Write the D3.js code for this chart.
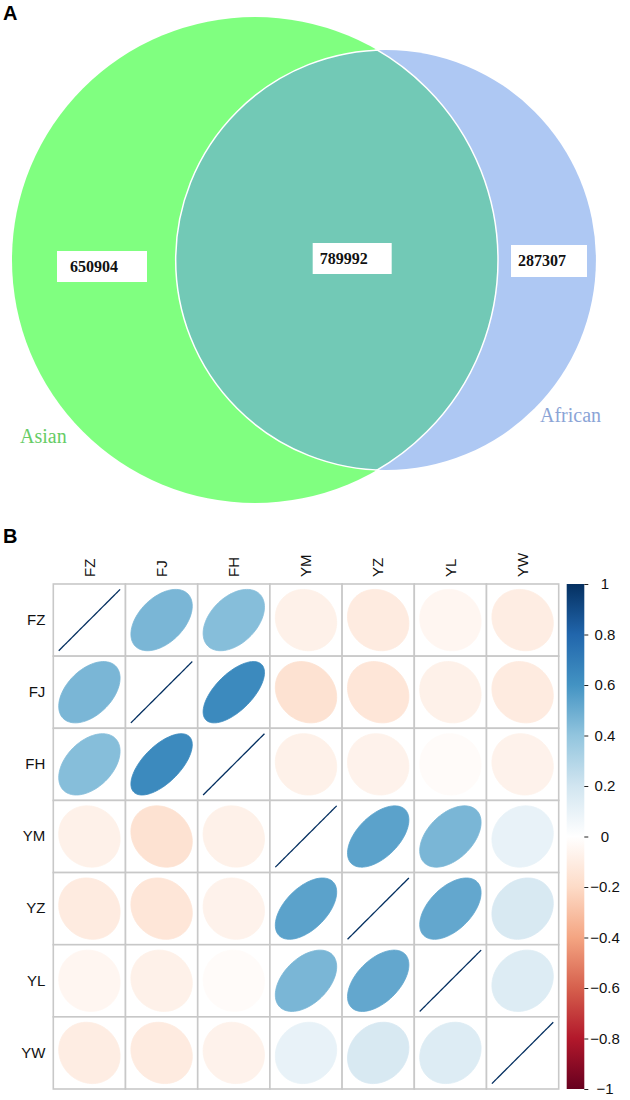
<!DOCTYPE html>
<html>
<head>
<meta charset="utf-8">
<script src="https://cdn.jsdelivr.net/npm/d3@7"></script>
<style>
body { margin: 0; background: #fff; }
svg { display: block; }
</style>
</head>
<body>
<div id="chart"></div>
<script>
// panel A: venn counts
const setNames = ["Asian", "African"];
const regionNames = ["Asian only", "shared", "African only"];
const regionCounts = [650904, 789992, 287307];

// panel B: correlation matrix
const vars = ["FZ", "FJ", "FH", "YM", "YZ", "YL", "YW"];
const corrRows = [
  [ 1.00,  0.46,  0.43, -0.08, -0.11, -0.05, -0.10],
  [ 0.46,  1.00,  0.64, -0.16, -0.14, -0.08, -0.11],
  [ 0.43,  0.64,  1.00, -0.08, -0.07, -0.02, -0.07],
  [-0.08, -0.16, -0.08,  1.00,  0.54,  0.46,  0.10],
  [-0.11, -0.14, -0.07,  0.54,  1.00,  0.52,  0.17],
  [-0.05, -0.08, -0.02,  0.46,  0.52,  1.00,  0.15],
  [-0.10, -0.11, -0.07,  0.10,  0.17,  0.15,  1.00]
];
const legendTicks = [-1, -0.8, -0.6, -0.4, -0.2, 0, 0.2, 0.4, 0.6, 0.8, 1];
const paletteStops = ["#67001F", "#B2182B", "#D6604D", "#F4A582", "#FDDBC7", "#FFFFFF",
                      "#D1E5F0", "#92C5DE", "#4393C3", "#2166AC", "#053061"];

const WIDTH = 630, HEIGHT = 1100;

const svg = d3.select("#chart")
  .append("svg")
    .attr("width", WIDTH)
    .attr("height", HEIGHT);

// ---------- A ----------
svg.append("text")
  .attr("x", 3).attr("y", 20)
  .attr("font-family", "Liberation Sans, Arial, sans-serif")
  .attr("font-weight", "bold")
  .attr("font-size", 20)
  .text("A");

const sizeA = regionCounts[0] + regionCounts[1];
const sizeB = regionCounts[2] + regionCounts[1];

// radius grows with sqrt of set size, so areas follow counts
const R_SCALE = d3.scaleSqrt().domain([0, sizeA]).range([0, 243]);
const r1 = R_SCALE(sizeA), r2 = R_SCALE(sizeB);

function lensArea(d) {
  if (d >= r1 + r2) return 0;
  if (d <= Math.abs(r1 - r2)) return Math.PI * Math.min(r1, r2) ** 2;
  const a1 = Math.acos((d * d + r1 * r1 - r2 * r2) / (2 * d * r1));
  const a2 = Math.acos((d * d + r2 * r2 - r1 * r1) / (2 * d * r2));
  const k = Math.sqrt((-d + r1 + r2) * (d + r1 - r2) * (d - r1 + r2) * (d + r1 + r2));
  return r1 * r1 * a1 + r2 * r2 * a2 - 0.5 * k;
}
const targetArea = Math.PI * R_SCALE(regionCounts[1]) ** 2;
let lo = Math.abs(r1 - r2), hi = r1 + r2;
for (let i = 0; i < 60; i++) {
  const mid = (lo + hi) / 2;
  if (lensArea(mid) > targetArea) lo = mid; else hi = mid;
}
const dist = (lo + hi) / 2;

const cy = 260;
const c1 = {x: 255, y: cy, r: r1};
const c2 = {x: 255 + dist, y: cy, r: r2};

const defs = svg.append("defs");
defs.append("clipPath").attr("id", "clipA")
  .append("circle").attr("cx", c1.x).attr("cy", c1.y).attr("r", c1.r);
defs.append("clipPath").attr("id", "clipB")
  .append("circle").attr("cx", c2.x).attr("cy", c2.y).attr("r", c2.r + 1);

svg.append("circle").attr("cx", c1.x).attr("cy", c1.y).attr("r", c1.r).attr("fill", "#80ff80");
svg.append("circle").attr("cx", c2.x).attr("cy", c2.y).attr("r", c2.r).attr("fill", "#aec8f3");
svg.append("circle").attr("cx", c2.x).attr("cy", c2.y).attr("r", c2.r)
  .attr("fill", "#72c9b6").attr("clip-path", "url(#clipA)");

// white edges inside the overlap
svg.append("circle").attr("cx", c1.x).attr("cy", c1.y).attr("r", c1.r)
  .attr("fill", "none").attr("stroke", "#fff").attr("stroke-width", 1.5)
  .attr("clip-path", "url(#clipB)");
svg.append("circle").attr("cx", c2.x).attr("cy", c2.y).attr("r", c2.r)
  .attr("fill", "none").attr("stroke", "#fff").attr("stroke-width", 1.5)
  .attr("clip-path", "url(#clipA)");

// count boxes
const boxes = [
  {x: c1.x - c1.r + 45, y: cy - 9, w: 90, h: 31},
  {x: c2.x - c2.r + 137, y: cy - 17, w: 79, h: 31},
  {x: c1.x + c1.r + 13, y: cy - 15, w: 76, h: 32}
];
const labelsA = svg.selectAll("g.count")
  .data(regionCounts)
  .enter()
  .append("g")
    .attr("class", "count")
    .attr("transform", (d, i) => "translate(" + boxes[i].x + "," + boxes[i].y + ")");
labelsA.append("rect")
  .attr("width", (d, i) => boxes[i].w)
  .attr("height", (d, i) => boxes[i].h)
  .attr("fill", "#fff");
labelsA.append("text")
  .attr("x", (d, i) => i === 0 ? 13 : 7)
  .attr("y", 21)
  .attr("font-family", "Liberation Serif, Times New Roman, serif")
  .attr("font-weight", "bold")
  .attr("font-size", 16)
  .attr("fill", "#111")
  .text(d => d);

svg.append("text")
  .attr("x", 20).attr("y", 443)
  .attr("font-family", "Liberation Serif, Times New Roman, serif")
  .attr("font-size", 20)
  .attr("fill", "#66cc66")
  .text(setNames[0]);
svg.append("text")
  .attr("x", 540).attr("y", 422)
  .attr("font-family", "Liberation Serif, Times New Roman, serif")
  .attr("font-size", 20)
  .attr("fill", "#8ba4d6")
  .text(setNames[1]);

// ---------- B ----------
svg.append("text")
  .attr("x", 3).attr("y", 543)
  .attr("font-family", "Liberation Sans, Arial, sans-serif")
  .attr("font-weight", "bold")
  .attr("font-size", 20)
  .text("B");

const GRID = {left: 53.3, right: 558.7, top: 584, bottom: 1089};
const X_SCALE = d3.scaleBand().domain(vars).range([GRID.left, GRID.right]);
const Y_SCALE = d3.scaleBand().domain(vars).range([GRID.top, GRID.bottom]);
const COLOR = d3.scaleLinear()
  .domain(legendTicks)
  .range(paletteStops);

const cells = [];
corrRows.forEach((row, i) => row.forEach((v, j) => cells.push({r: vars[i], c: vars[j], v: v})));

// ellipse outline as corrplot builds it
function ellipsePath(rho, w, h) {
  const a = Math.acos(Math.max(-1, Math.min(1, rho)));
  const pts = d3.range(99).map(n => {
    const k = n / 98 * 2 * Math.PI;
    return [0.85 * w * Math.cos(k + a / 2) / 2, -0.85 * h * Math.cos(k - a / 2) / 2];
  });
  return d3.line()(pts) + "Z";
}

const cellG = svg.selectAll("g.cell")
  .data(cells)
  .enter()
  .append("g")
    .attr("class", "cell");

cellG.append("rect")
  .attr("x", d => X_SCALE(d.c))
  .attr("y", d => Y_SCALE(d.r))
  .attr("width", X_SCALE.bandwidth())
  .attr("height", Y_SCALE.bandwidth())
  .attr("fill", "#fff");

cellG.append("path")
  .attr("transform", d => "translate(" + (X_SCALE(d.c) + X_SCALE.bandwidth() / 2) + "," +
                                          (Y_SCALE(d.r) + Y_SCALE.bandwidth() / 2) + ")")
  .attr("d", d => ellipsePath(d.v, X_SCALE.bandwidth(), Y_SCALE.bandwidth()))
  .attr("fill", d => COLOR(d.v))
  .attr("stroke", d => COLOR(d.v))
  .attr("stroke-width", d => d.v === 1 ? 1.3 : 0.8);

cellG.append("rect")
  .attr("x", d => X_SCALE(d.c))
  .attr("y", d => Y_SCALE(d.r))
  .attr("width", X_SCALE.bandwidth())
  .attr("height", Y_SCALE.bandwidth())
  .attr("fill", "none")
  .attr("stroke", "#c8c8c8")
  .attr("stroke-width", 1.6);

// row labels
svg.append("g")
  .attr("transform", "translate(" + (GRID.left - 8) + ",0)")
  .call(d3.axisLeft(Y_SCALE).tickSize(0).tickPadding(0))
  .call(g => g.select(".domain").remove())
  .selectAll("text")
    .attr("font-family", "Liberation Sans, Arial, sans-serif")
    .attr("font-size", 15)
    .attr("fill", "#111");

// column labels, rotated
svg.selectAll("text.colLabel")
  .data(vars)
  .enter()
  .append("text")
    .attr("class", "colLabel")
    .attr("transform", d => "translate(" + (X_SCALE(d) + X_SCALE.bandwidth() / 2) + "," + (GRID.top - 7) + ") rotate(-90)")
    .attr("dy", "0.35em")
    .attr("font-family", "Liberation Sans, Arial, sans-serif")
    .attr("font-size", 15)
    .attr("fill", "#111")
    .text(d => d);

// colour legend
const BAR = {x: 566.7, w: 17.6};
const L_SCALE = d3.scaleLinear().domain([-1, 1]).range([GRID.bottom, GRID.top]);

const grad = defs.append("linearGradient")
  .attr("id", "corrGrad")
  .attr("x1", 0).attr("y1", 1).attr("x2", 0).attr("y2", 0);
grad.selectAll("stop")
  .data(legendTicks)
  .enter()
  .append("stop")
    .attr("offset", d => (d + 1) / 2)
    .attr("stop-color", d => COLOR(d));

svg.append("rect")
  .attr("x", BAR.x)
  .attr("y", GRID.top)
  .attr("width", BAR.w)
  .attr("height", GRID.bottom - GRID.top)
  .attr("fill", "url(#corrGrad)");

svg.append("g")
  .attr("transform", "translate(" + (BAR.x + BAR.w) + ",0)")
  .call(d3.axisRight(L_SCALE).tickValues(legendTicks).tickSize(4).tickPadding(0).tickFormat(d3.format("~g")))
  .call(g => g.select(".domain").remove())
  .call(g => g.selectAll("line").attr("stroke", "#222"))
  .selectAll("text")
    .attr("x", 605 - (BAR.x + BAR.w))
    .attr("text-anchor", "middle")
    .attr("font-family", "Liberation Sans, Arial, sans-serif")
    .attr("font-size", 15)
    .attr("fill", "#111");
</script>
</body>
</html>
